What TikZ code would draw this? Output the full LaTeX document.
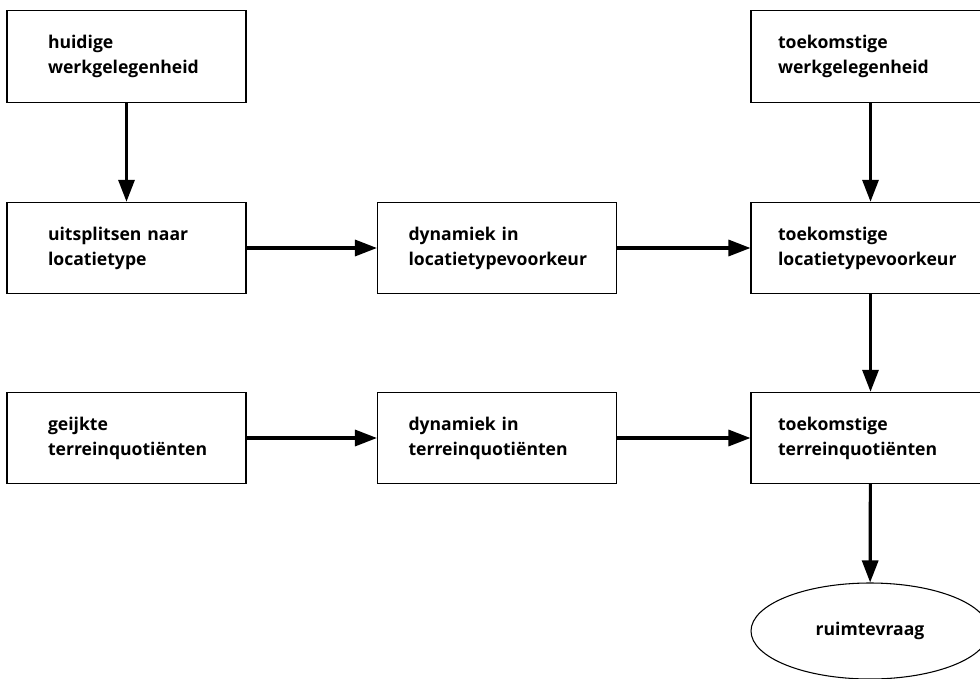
\documentclass[tikz,border=0pt]{standalone}
\usepackage{fontspec}
\setmainfont{Open Sans}
\usetikzlibrary{arrows.meta,shapes.geometric}
\hfuzz=60pt

\begin{document}
\begin{tikzpicture}[x=0.75pt,y=0.75pt,yscale=-1,xscale=1,
  box/.style 2 args={draw, line width=0.8pt, minimum width=179.25pt, minimum height=68.5pt, inner xsep=#1, text width=#2, align=left, font=\fontsize{13.2}{18.8}\selectfont\bfseries},
  flow/.style={line width=2.4pt, -{Triangle[length=16.5pt,width=12pt]}}]
\clip (0,0) rectangle (980,678);

%Shape: Rectangle, top row
\node[box={30.75pt}{117.75pt}] (huidig) at (126.5,56.5) {huidige\\werkgelegenheid};
\node[box={20.25pt}{138.75pt}] (toekwerk) at (870.5,56.5) {toekomstige\\werkgelegenheid};
%Shape: Rectangle, middle row
\node[box={30.75pt}{117.75pt}] (uitspl) at (126.5,248) {uitsplitsen naar\\locatietype};
\node[box={23.25pt}{132.75pt}] (dynloc) at (497,248) {dynamiek in\\locatietypevoorkeur};
\node[box={20.25pt}{138.75pt}] (toekloc) at (870.5,248) {toekomstige\\locatietypevoorkeur};
%Shape: Rectangle, bottom row
\node[box={30.75pt}{117.75pt}] (geijkt) at (126.5,438) {geijkte\\terreinquotiënten};
\node[box={23.25pt}{132.75pt}] (dynterr) at (497,438) {dynamiek in\\terreinquotiënten};
\node[box={20.25pt}{138.75pt}] (toekterr) at (870.5,438) {toekomstige\\terreinquotiënten};
%Shape: Ellipse
\node[ellipse, draw, line width=0.8pt, minimum width=178.5pt, minimum height=72pt, font=\fontsize{13.2}{18.8}\selectfont\bfseries] (ruimte) at (870,631) {ruimtevraag};

%Straight Lines
\draw[flow] (huidig) -- (uitspl);
\draw[flow] (toekwerk) -- (toekloc);
\draw[flow] (uitspl) -- (dynloc);
\draw[flow] (dynloc) -- (toekloc);
\draw[flow] (toekloc) -- (toekterr);
\draw[flow] (geijkt) -- (dynterr);
\draw[flow] (dynterr) -- (toekterr);
\draw[flow] (toekterr) -- (ruimte);

\end{tikzpicture}
\end{document}
